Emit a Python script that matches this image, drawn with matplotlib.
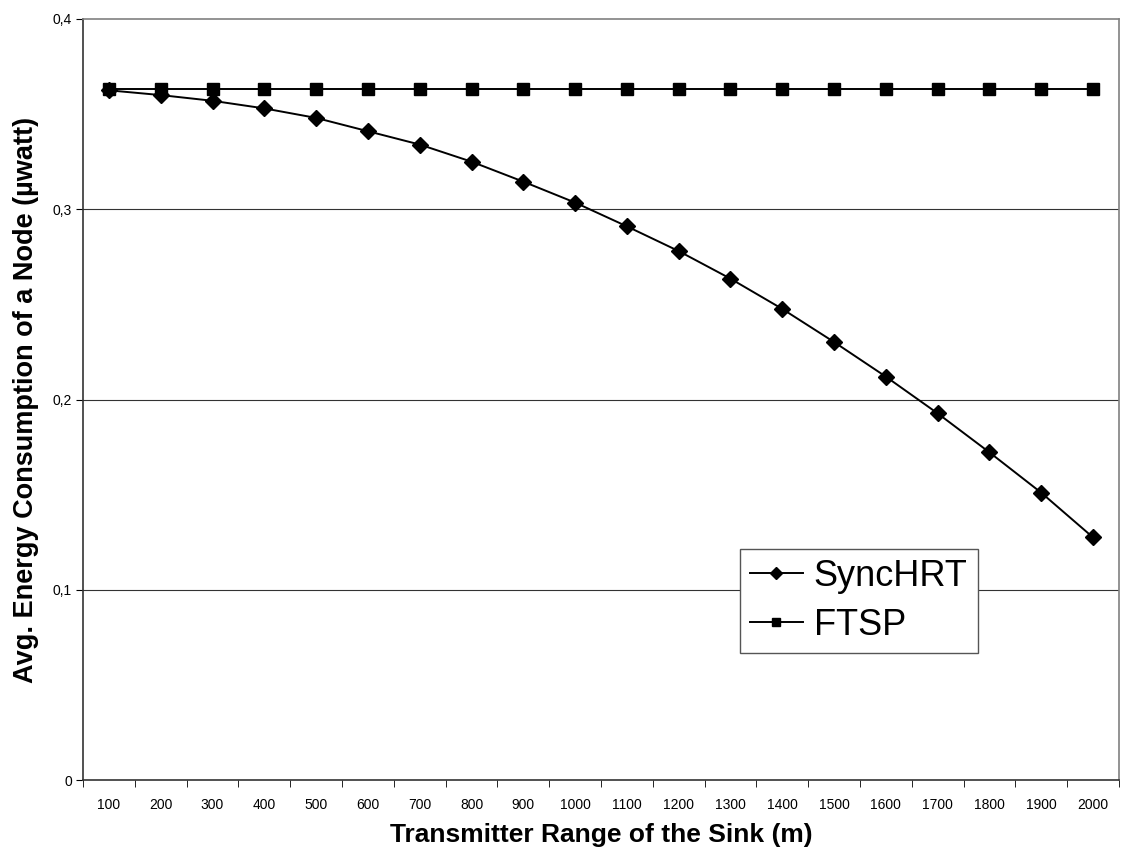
import matplotlib
matplotlib.use("Agg")
import matplotlib.pyplot as plt
from matplotlib.ticker import FixedLocator, FuncFormatter

# data
ranges = [100, 200, 300, 400, 500, 600, 700, 800, 900, 1000,
          1100, 1200, 1300, 1400, 1500, 1600, 1700, 1800, 1900, 2000]
synchrt = [0.3625, 0.360, 0.357, 0.353, 0.348, 0.341, 0.334, 0.325, 0.3145, 0.3035,
           0.291, 0.278, 0.2635, 0.2476, 0.2302, 0.212, 0.1927, 0.1722, 0.151, 0.1275]
ftsp = [0.363] * 20
y_ticks = [0, 0.1, 0.2, 0.3, 0.4]

plt.rcParams['font.family'] = ['Liberation Sans', 'DejaVu Sans']

fig = plt.figure(figsize=(11.22, 8.51), dpi=100)
ax = fig.add_axes([0.074, 0.0834, 0.9233, 0.8943])

pos = list(range(len(ranges)))
ax.plot(pos, synchrt, color='black', lw=1.4, marker='D', markersize=8.5, label='SyncHRT')
ax.plot(pos, ftsp, color='black', lw=1.4, marker='s', markersize=8, label='FTSP')

ax.set_xlim(-0.5, len(ranges) - 0.5)
ax.set_ylim(0, 0.4)

# category labels centred, tick marks on category boundaries
ax.set_xticks(pos)
ax.set_xticklabels([str(r) for r in ranges], fontsize=10)
ax.tick_params(axis='x', which='major', length=0, pad=13)
ax.xaxis.set_minor_locator(FixedLocator([p - 0.5 for p in pos] + [len(pos) - 0.5]))
ax.tick_params(axis='x', which='minor', length=5, direction='out', color='black')

ax.set_yticks(y_ticks)
ax.yaxis.set_major_formatter(FuncFormatter(lambda v, _: ('%g' % v).replace('.', ',')))
ax.tick_params(axis='y', length=5, direction='out', labelsize=10, pad=3)

for v in y_ticks[1:-1]:
    ax.axhline(v, color='#333333', lw=0.8, zorder=0)

for s in ['top', 'right']:
    ax.spines[s].set_color('#808080')
    ax.spines[s].set_linewidth(1.2)
for s in ['left', 'bottom']:
    ax.spines[s].set_color('#333333')
    ax.spines[s].set_linewidth(1.2)

ax.set_xlabel('Transmitter Range of the Sink (m)', fontsize=19, fontweight='bold', labelpad=8)
ax.set_ylabel('Avg. Energy Consumption of a Node (\u00b5watt)', fontsize=19.5, fontweight='bold', labelpad=10)

leg = ax.legend(loc='upper left', bbox_to_anchor=(0.634, 0.304),
                fontsize=26, frameon=True, fancybox=False, borderpad=0.28, handlelength=1.47,
                handletextpad=0.3, labelspacing=0.38, borderaxespad=0, markerscale=0.75)
leg.get_frame().set_edgecolor('#555555')
leg.get_frame().set_linewidth(1.0)
leg.get_frame().set_alpha(1)

fig.savefig('out.png', dpi=100)
